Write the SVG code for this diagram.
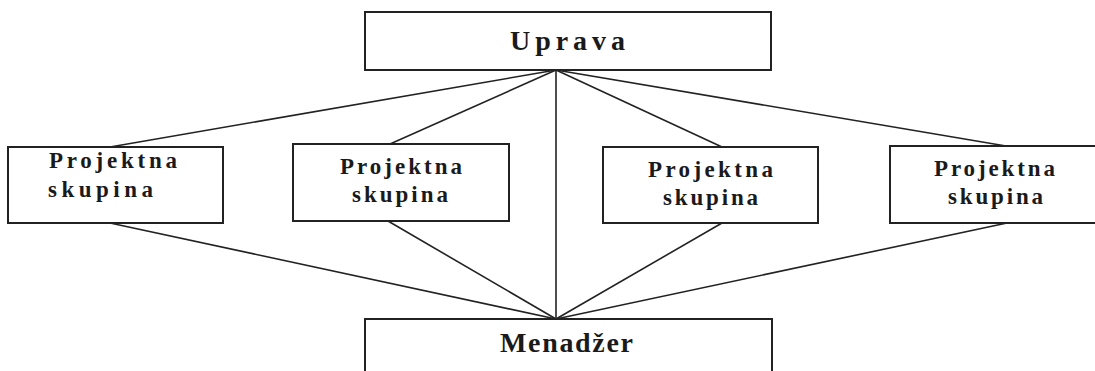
<svg xmlns="http://www.w3.org/2000/svg" width="1095" height="371" viewBox="0 0 1095 371">
<style>
.box{fill:#fff;stroke:#222;stroke-width:2}
.ln{stroke:#222;stroke-width:1.6;fill:none}
.t{font-family:"Liberation Serif",serif;font-weight:bold;fill:#1a1a1a}
.big{font-size:28px}
.sm{font-size:23px}
</style>
<rect width="1095" height="371" fill="#fff"/>
<g id="connectors">
<line class="ln" x1="556" y1="70" x2="110" y2="147"/>
<line class="ln" x1="556" y1="70" x2="390" y2="144"/>
<line class="ln" x1="556" y1="70" x2="556" y2="319"/>
<line class="ln" x1="556" y1="70" x2="722" y2="147"/>
<line class="ln" x1="556" y1="70" x2="1006" y2="146"/>
<line class="ln" x1="110" y1="223" x2="556" y2="319"/>
<line class="ln" x1="388" y1="221" x2="556" y2="319"/>
<line class="ln" x1="722" y1="223" x2="556" y2="319"/>
<line class="ln" x1="1007" y1="223" x2="556" y2="319"/>
</g>
<g id="uprava">
<rect class="box" x="365" y="12" width="406" height="58"/>
<text class="t big" x="510" y="50" textLength="115" lengthAdjust="spacing">Uprava</text>
</g>
<g id="ps1">
<rect class="box" x="8" y="147" width="215" height="76"/>
<text class="t sm" x="49" y="168" textLength="128" lengthAdjust="spacing">Projektna</text>
<text class="t sm" x="48" y="197" textLength="105" lengthAdjust="spacing">skupina</text>
</g>
<g id="ps2">
<rect class="box" x="293" y="144" width="216" height="77"/>
<text class="t sm" x="340" y="174" textLength="122" lengthAdjust="spacing">Projektna</text>
<text class="t sm" x="352" y="202" textLength="96" lengthAdjust="spacing">skupina</text>
</g>
<g id="ps3">
<rect class="box" x="603" y="147" width="215" height="76"/>
<text class="t sm" x="648" y="177" textLength="125" lengthAdjust="spacing">Projektna</text>
<text class="t sm" x="663" y="205" textLength="95" lengthAdjust="spacing">skupina</text>
</g>
<g id="ps4">
<rect class="box" x="890" y="146" width="215" height="77"/>
<text class="t sm" x="934" y="176" textLength="121" lengthAdjust="spacing">Projektna</text>
<text class="t sm" x="948" y="204" textLength="95" lengthAdjust="spacing">skupina</text>
</g>
<g id="menadzer">
<rect class="box" x="365" y="319" width="407" height="60"/>
<text class="t big" x="500" y="352" textLength="133" lengthAdjust="spacing">Menadžer</text>
</g>
</svg>
